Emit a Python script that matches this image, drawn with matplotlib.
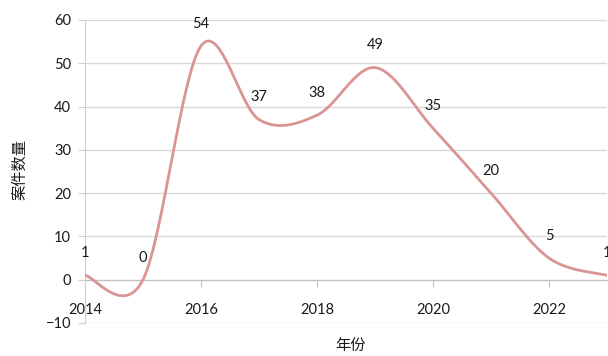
import numpy as np
import matplotlib.pyplot as plt

plt.rcParams['font.family'] = ['Lato', 'Noto Sans CJK SC', 'DejaVu Sans']

years = [2014, 2015, 2016, 2017, 2018, 2019, 2020, 2021, 2022, 2023]
cases = [1, 0, 54, 37, 38, 49, 35, 20, 5, 1]
xticks = [2014, 2016, 2018, 2020, 2022]
yticks = [-10, 0, 10, 20, 30, 40, 50, 60]


def smooth_line(xs, ys, n=40):
    # cubic bezier through every point, control points from neighbours (1/6)
    p = np.column_stack([xs, ys]).astype(float)
    pts = []
    for i in range(len(p) - 1):
        p0 = p[i - 1] if i > 0 else p[i]
        p1, p2 = p[i], p[i + 1]
        p3 = p[i + 2] if i + 2 < len(p) else p[i + 1]
        b1 = p1 + (p2 - p0) / 6
        b2 = p2 - (p3 - p1) / 6
        t = np.linspace(0, 1, n)[:, None]
        seg = ((1 - t) ** 3 * p1 + 3 * (1 - t) ** 2 * t * b1
               + 3 * (1 - t) * t ** 2 * b2 + t ** 3 * p2)
        pts.append(seg if i == 0 else seg[1:])
    pts = np.vstack(pts)
    return pts[:, 0], pts[:, 1]


fig = plt.figure(figsize=(6.08, 3.56), dpi=100)
ax = fig.add_axes([85 / 608, 33 / 356, 522 / 608, 303 / 356])

sx, sy = smooth_line(years, cases)
ax.plot(sx, sy, color='#d99593', lw=2.0, solid_capstyle='round', zorder=3)

for x, y in zip(years, cases):
    ax.text(x, y + 3.5, str(y), ha='center', va='bottom', fontsize=10.5,
            color='#1a1a1a', clip_on=False)

ax.set_xlim(2014, 2023)
ax.set_ylim(-10, 60)
ax.set_xticks(xticks)
ax.set_yticks(yticks)
ax.grid(axis='y', color='#d9d9d9', lw=1)
ax.set_axisbelow(True)

for s in ['top', 'right']:
    ax.spines[s].set_visible(False)
ax.spines['bottom'].set_position(('data', 0))
ax.spines['bottom'].set_color('#bfbfbf')
ax.spines['left'].set_color('#d0d0d0')
ax.tick_params(axis='x', direction='out', length=5, color='#bfbfbf', pad=12,
               labelsize=10.5, labelcolor='#1a1a1a')
ax.tick_params(axis='y', direction='out', length=5, color='#d0d0d0', pad=5,
               labelsize=10.5, labelcolor='#1a1a1a')

fig.text(20 / 608, 1 - 170 / 356, '案件数量', rotation=90, ha='center',
         va='center', fontsize=11, color='#1a1a1a')
fig.text(350 / 608, 1 - 346 / 356, '年份', ha='center', va='center',
         fontsize=11, color='#1a1a1a')

fig.savefig('out.png', dpi=100, facecolor='white')
